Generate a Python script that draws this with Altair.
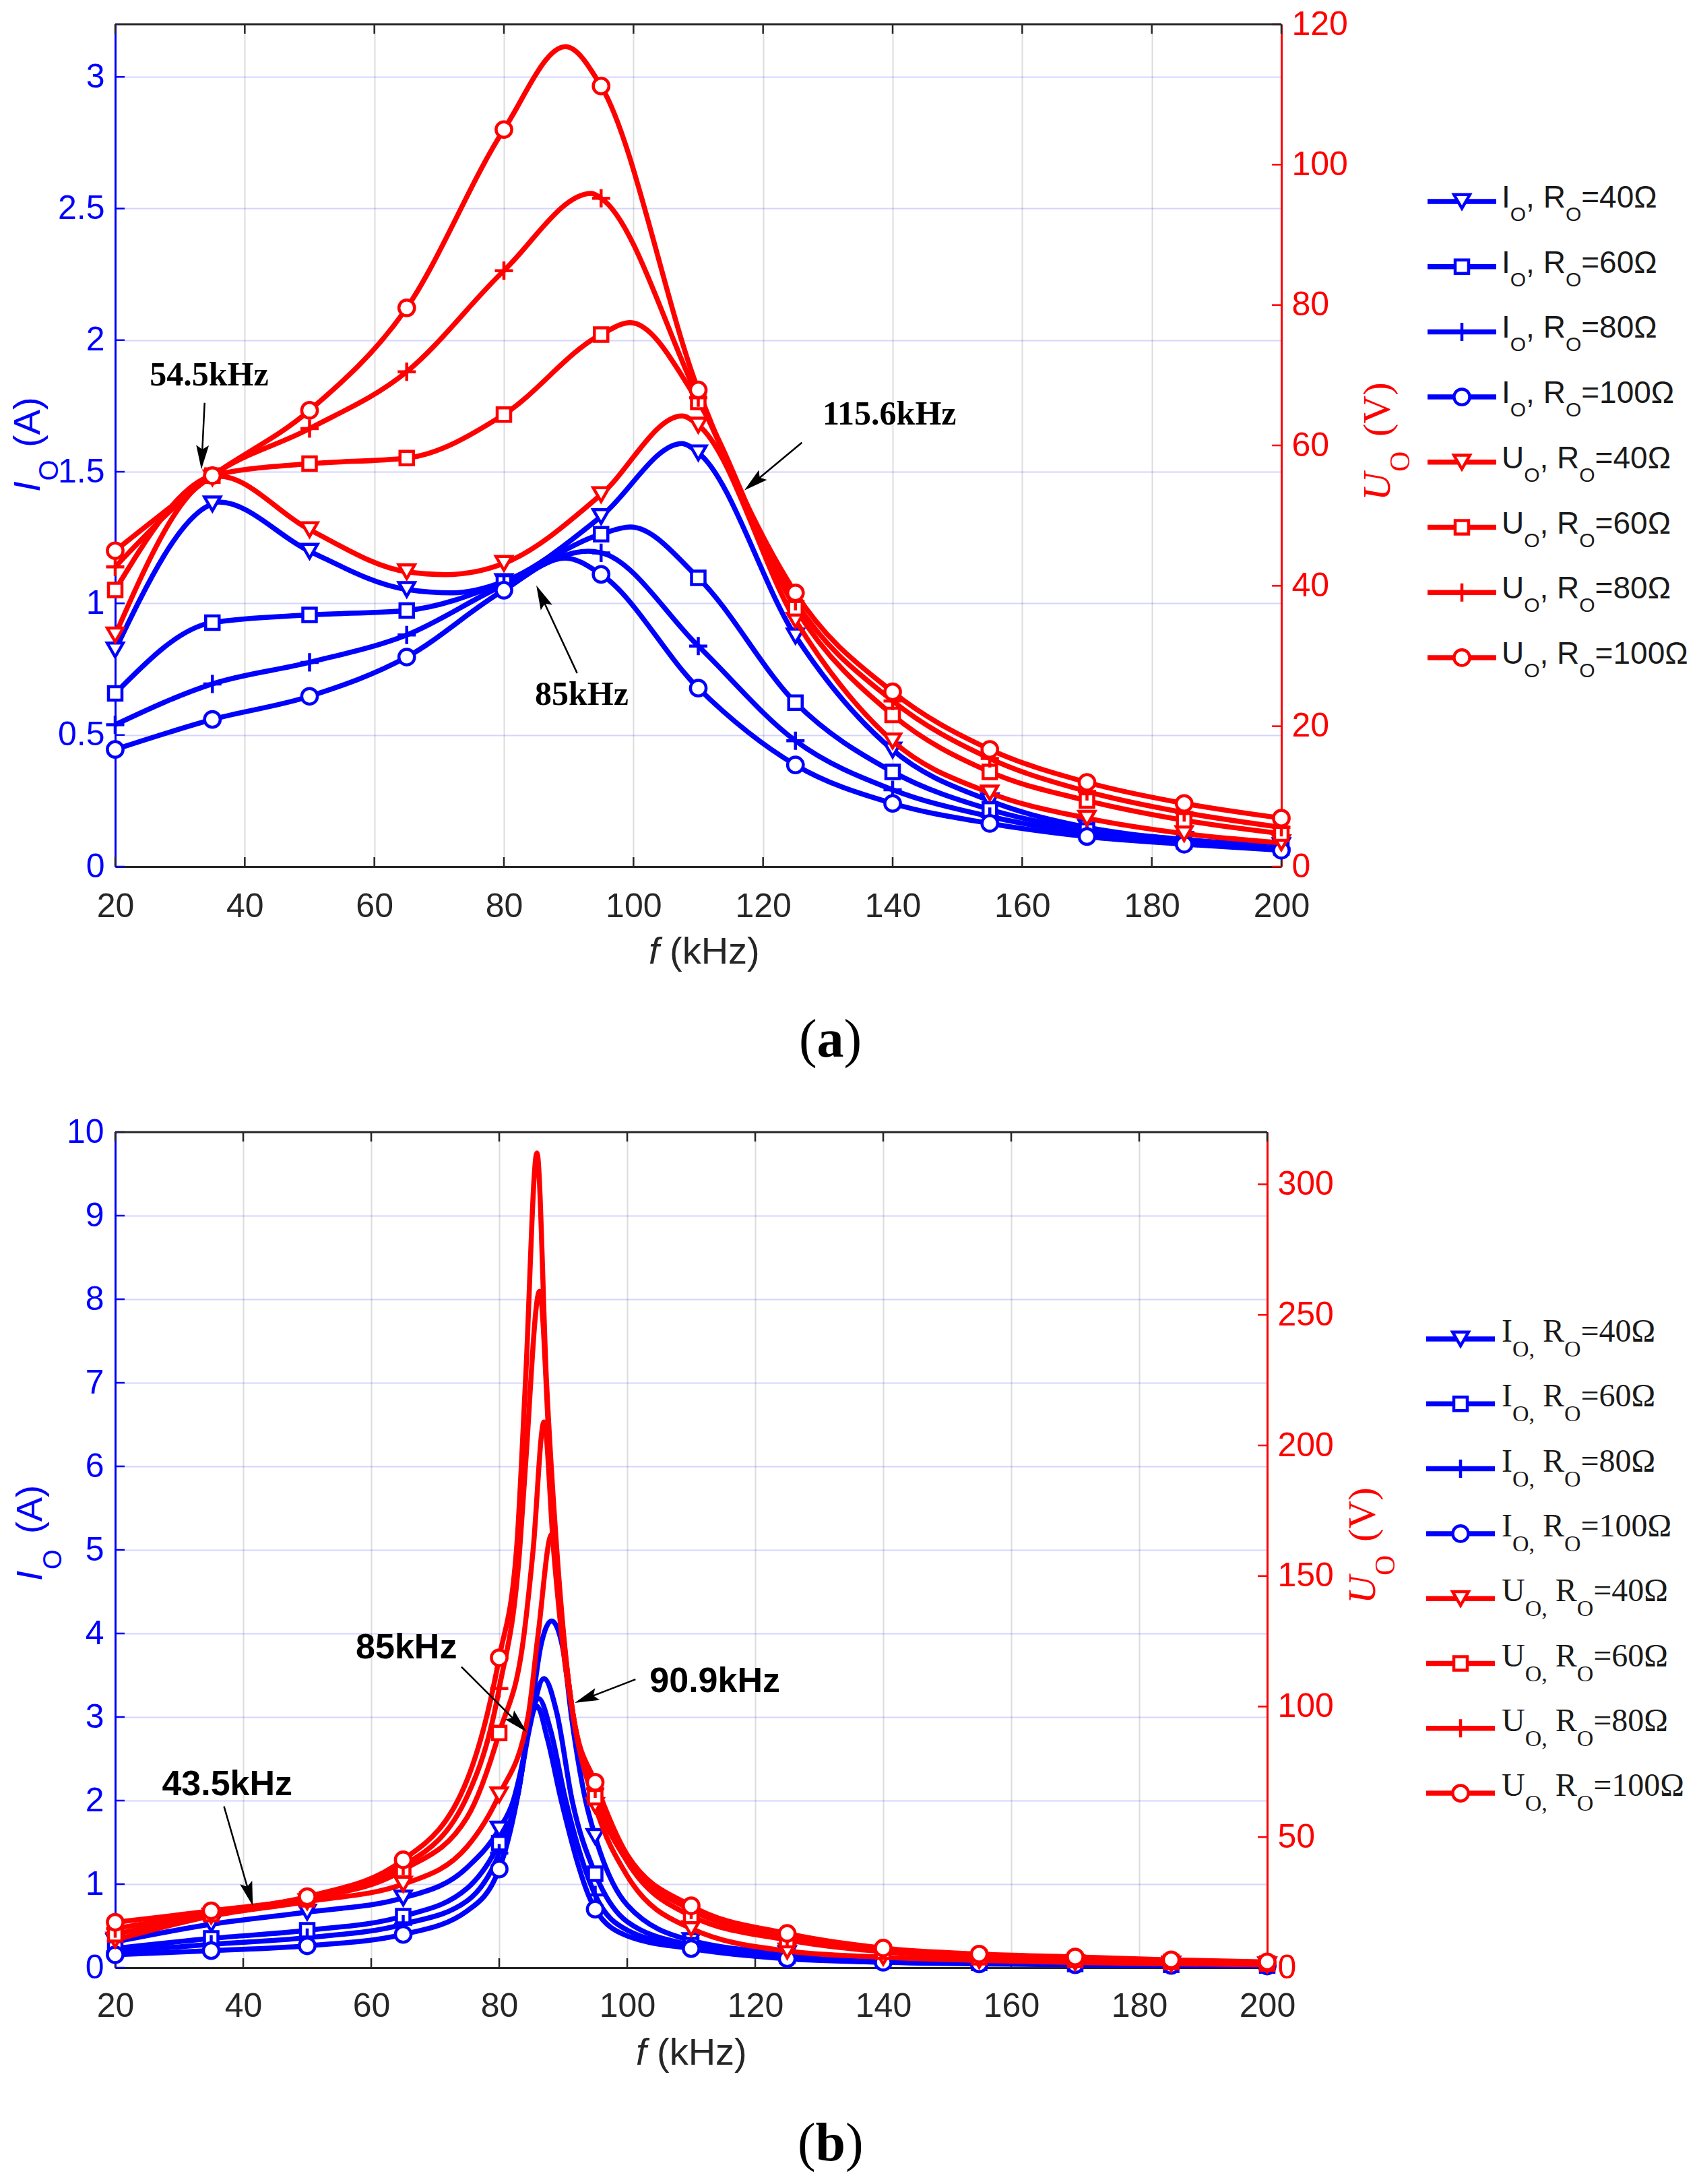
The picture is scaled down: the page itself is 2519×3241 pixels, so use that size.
import math
import altair as alt
import pandas as pd

SANS = "Liberation Sans"
SERIF = "Liberation Serif"
BLUE = "#0000ff"
RED = "#ff0000"
DARK = "#262626"
INK = "#1a1a1a"

# ---------------- shared ----------------
F_TICKS = [20, 40, 60, 80, 100, 120, 140, 160, 180, 200]
MARK_F = [20, 35, 50, 65, 80, 95, 110, 125, 140, 155, 170, 185, 200]
LOADS = ["40", "60", "80", "100"]

# ---------------- panel (a) ----------------
A_I_TICKS = [0, 0.5, 1, 1.5, 2, 2.5, 3]
A_U_TICKS = [0, 20, 40, 60, 80, 100, 120]

A_I40_F = [20, 35, 36, 50, 65, 72, 80, 95, 107.5, 110, 125, 140, 155, 170, 185, 200]
A_I40 = [0.823, 1.378, 1.385, 1.198, 1.053, 1.04, 1.083, 1.33, 1.607, 1.572, 0.876, 0.443, 0.25, 0.149, 0.103, 0.08]
A_I60_F = [20, 35, 50, 65, 80, 95, 99.5, 110, 125, 140, 155, 170, 185, 200]
A_I60 = [0.658, 0.927, 0.956, 0.973, 1.08, 1.263, 1.29, 1.097, 0.623, 0.36, 0.217, 0.137, 0.096, 0.073]
A_I80_F = [20, 35, 50, 65, 80, 93, 95, 110, 125, 140, 155, 170, 185, 200]
A_I80 = [0.539, 0.694, 0.776, 0.88, 1.07, 1.198, 1.192, 0.838, 0.478, 0.292, 0.19, 0.126, 0.091, 0.069]
A_I100_F = [20, 35, 50, 65, 80, 89.5, 95, 110, 125, 140, 155, 170, 185, 200]
A_I100 = [0.445, 0.559, 0.647, 0.796, 1.05, 1.172, 1.11, 0.678, 0.386, 0.24, 0.164, 0.114, 0.085, 0.062]

A_U40_F = [20, 35, 36, 50, 65, 71, 80, 95, 107.5, 110, 125, 140, 155, 170, 185, 200]
A_U40 = [33.0, 55.4, 55.6, 48.0, 42.0, 41.6, 43.2, 53.0, 64.2, 62.9, 35.1, 17.9, 10.5, 6.9, 4.7, 3.4]
A_U60_F = [20, 35, 50, 65, 80, 95, 99.5, 110, 125, 140, 155, 170, 185, 200]
A_U60 = [39.4, 55.7, 57.4, 58.2, 64.4, 75.8, 77.5, 66.2, 36.8, 21.6, 13.5, 9.4, 6.6, 4.7]
A_U80_F = [20, 35, 50, 65, 80, 93.5, 95, 110, 125, 140, 155, 170, 185, 200]
A_U80 = [42.7, 55.7, 62.4, 70.5, 84.9, 95.9, 95.2, 66.8, 37.8, 23.6, 15.4, 10.7, 7.7, 5.6]
A_U100_F = [20, 35, 50, 65, 80, 89.5, 95, 110, 125, 140, 155, 170, 185, 200]
A_U100 = [45.0, 55.7, 65.0, 79.6, 105.0, 116.8, 111.2, 67.9, 39.0, 24.9, 16.7, 12.0, 9.0, 6.9]

A_NOTE_TEXT = ["54.5kHz", "115.6kHz", "85kHz"]
A_NOTE_F = [34.5, 139.5, 92.0]
A_NOTE_I = [1.867, 1.717, 0.653]
A_ARROW_F1 = [33.8, 126.0, 91.3]
A_ARROW_I1 = [1.762, 1.611, 0.735]
A_ARROW_F2 = [33.3, 117.1, 85.0]
A_ARROW_I2 = [1.509, 1.429, 1.068]

# ---------------- panel (b) ----------------
B_I_TICKS = [0, 1, 2, 3, 4, 5, 6, 7, 8, 9, 10]
B_U_TICKS = [0, 50, 100, 150, 200, 250, 300]

B_I40_F = [20, 35, 50, 65, 75, 80, 82.2, 84.7, 86.5, 88.2, 90, 91.3, 93.5, 95, 100, 110, 125, 140, 155, 170, 185, 200]
B_I40 = [0.31, 0.52, 0.665, 0.835, 1.2, 1.66, 2.0, 2.9, 3.85, 4.15, 3.8, 3.0, 2.0, 1.57, 0.75, 0.325, 0.17, 0.105, 0.072, 0.053, 0.041, 0.032]
B_I60_F = [20, 35, 50, 65, 75, 80, 82.7, 84.7, 87.0, 89.0, 91.4, 95, 100, 110, 125, 140, 155, 170, 185, 200]
B_I60 = [0.23, 0.35, 0.447, 0.617, 0.95, 1.49, 2.0, 2.85, 3.46, 3.05, 2.0, 1.126, 0.55, 0.27, 0.14, 0.085, 0.058, 0.044, 0.034, 0.027]
B_I80_F = [20, 35, 50, 65, 75, 80, 83.0, 84.7, 86.2, 88.0, 90.4, 95, 100, 110, 125, 140, 155, 170, 185, 200]
B_I80 = [0.19, 0.28, 0.36, 0.52, 0.8, 1.37, 2.1, 2.9, 3.22, 2.85, 2.0, 0.87, 0.45, 0.245, 0.12, 0.074, 0.051, 0.039, 0.03, 0.024]
B_I100_F = [20, 35, 50, 65, 75, 80, 83.0, 84.7, 85.9, 87.5, 89.7, 95, 100, 110, 125, 140, 155, 170, 185, 200]
B_I100 = [0.155, 0.204, 0.262, 0.398, 0.68, 1.18, 2.1, 2.9, 3.13, 2.75, 2.0, 0.70, 0.38, 0.228, 0.107, 0.065, 0.045, 0.035, 0.027, 0.02]

B_U40_F = [20, 35, 50, 65, 75, 80, 84.5, 86.1, 88.2, 89.9, 91.6, 95, 100, 110, 125, 140, 155, 170, 185, 200]
B_U40 = [10.6, 19.8, 25.3, 32.0, 46.4, 66.2, 96, 128, 166, 128, 96, 62.1, 35.2, 15.0, 6.4, 4.0, 2.8, 2.0, 1.5, 1.1]
B_U60_F = [20, 35, 50, 65, 75, 80, 83.9, 85.3, 87.0, 88.5, 90.2, 91.6, 95, 100, 110, 125, 140, 155, 170, 185, 200]
B_U60 = [12.8, 20.5, 26.2, 37.4, 57.6, 89.9, 128, 160, 209, 160, 118, 96, 65.3, 40.6, 19.8, 10.6, 6.1, 4.0, 3.0, 2.2, 1.6]
B_U80_F = [20, 35, 50, 65, 75, 80, 83.2, 84.1, 86.3, 88.0, 90.0, 91.6, 95, 100, 110, 125, 140, 155, 170, 185, 200]
B_U80 = [15.0, 21.1, 26.9, 39.0, 65.6, 106.9, 160, 192, 259, 192, 128, 96, 68.5, 42.2, 22.1, 12.0, 6.8, 4.7, 3.6, 2.6, 1.9]
B_U100_F = [20, 35, 50, 65, 75, 80, 82.7, 84.1, 85.9, 87.4, 89.0, 91.6, 95, 100, 110, 125, 140, 155, 170, 185, 200]
B_U100 = [17.4, 21.8, 27.2, 41.3, 72.0, 118.7, 160, 224, 312, 224, 160, 96, 71.0, 43.2, 23.7, 13.1, 7.5, 5.2, 4.1, 3.0, 2.2]

B_NOTE_TEXT = ["43.5kHz", "85kHz", "90.9kHz"]
B_NOTE_F = [37.5, 65.5, 113.7]
B_NOTE_I = [2.19, 3.83, 3.43]
B_ARROW_F1 = [37.0, 74.1, 101.3]
B_ARROW_I1 = [1.93, 3.60, 3.45]
B_ARROW_F2 = [41.5, 84.3, 91.8]
B_ARROW_I2 = [0.74, 2.82, 3.17]

# ---------------- styles ----------------
SHAPE = {"40": "triangle-down", "60": "square", "80": "M-1,0L1,0M0,-1L0,1", "100": "circle"}
MSIZE = {"40": 560, "60": 400, "80": 730, "100": 540}
LINE_W = 7.5
MARK_W = 4.5
ARROW = "M0,-1L0.42,0.6L0,0.32L-0.42,0.6Z"
ARROW_SIZE = 2025
ARROW_BACK = math.sqrt(ARROW_SIZE) / 2
NUMFMT = ".6~g"


def series_frame(series):
    rows = []
    for side, load, fs, vs in series:
        for f, v in zip(fs, vs):
            rows.append(dict(f=f, v=v, sid=side + load, side=side,
                             shape=SHAPE[load], size=MSIZE[load],
                             mark=(f in MARK_F)))
    return pd.DataFrame(rows)


def arrow_frame(f1s, v1s, f2s, v2s, sx, sy):
    rows = []
    for f1, v1, f2, v2 in zip(f1s, v1s, f2s, v2s):
        dxp = (f2 - f1) * sx
        dyp = -(v2 - v1) * sy
        n = math.hypot(dxp, dyp)
        ux, uy = dxp / n, dyp / n
        ang = math.degrees(math.atan2(ux, -uy)) % 360
        fh = f2 - ux * ARROW_BACK / sx
        vh = v2 + uy * ARROW_BACK / sy
        rows.append(dict(f1=f1, v1=v1, fh=fh, vh=vh, ang=ang))
    return pd.DataFrame(rows)


def txt(text, x, y, size, font, color, style="normal", weight="normal",
        angle=0, dx=0, dy=0, align="left"):
    return alt.Chart(pd.DataFrame({"t": [text]})).mark_text(
        font=font, fontSize=size, fontStyle=style, fontWeight=weight,
        color=color, angle=angle, dx=dx, dy=dy, align=align,
        baseline="alphabetic"
    ).encode(text="t:N", x=alt.value(x), y=alt.value(y))


def panel(P):
    W, H = P["W"], P["H"]
    xs = alt.Scale(domain=[20, 200], nice=False, zero=False)
    xax = alt.Axis(values=F_TICKS, format="d", title=None, grid=True,
                   gridColor=DARK, gridOpacity=0.16, gridWidth=2, ticks=False,
                   domainColor=DARK, domainWidth=3, labelColor=DARK,
                   labelFont=SANS, labelFontSize=50, labelPadding=P["xpad"],
                   labelFlush=False, labelOverlap=False)

    def X(fld):
        return alt.X(f"{fld}:Q", scale=xs, axis=xax)

    yI = alt.Scale(domain=[0, P["imax"]], nice=False)
    yU = alt.Scale(domain=[0, P["umax"]], nice=False)
    lax = alt.Axis(orient="left", values=P["itk"], format=NUMFMT, title=None,
                   grid=True, gridColor=BLUE, gridOpacity=0.17, gridWidth=2,
                   ticks=False, domainColor=BLUE, domainWidth=3,
                   labelColor=BLUE, labelFont=SANS, labelFontSize=50,
                   labelPadding=P["lpad"], labelFlush=False, labelOverlap=False)
    rax = alt.Axis(orient="right", values=P["utk"], format=NUMFMT, title=None,
                   grid=False, ticks=False, domainColor=RED, domainWidth=3,
                   labelColor=RED, labelFont=SANS, labelFontSize=50,
                   labelPadding=P["rpad"], labelFlush=False, labelOverlap=False)

    def YI(fld, axis=None):
        return alt.Y(f"{fld}:Q", scale=yI, axis=axis)

    def YU(fld, axis=None):
        return alt.Y(f"{fld}:Q", scale=yU, axis=axis)

    df = P["df"]
    Idf = df[df.side == "I"]
    Udf = df[df.side == "U"]
    Im = Idf[Idf.mark]
    Um = Udf[Udf.mark]

    L = []
    ft = pd.DataFrame({"f": F_TICKS})
    L.append(alt.Chart(ft).mark_rule(color=DARK, strokeWidth=2.5).encode(
        x=X("f"), y=alt.value(H), y2=alt.value(H - 14)))
    L.append(alt.Chart(ft).mark_rule(color=DARK, strokeWidth=2.5).encode(
        x=X("f"), y=alt.value(0), y2=alt.value(14)))
    L.append(alt.Chart(pd.DataFrame({"v": P["itk"]})).mark_rule(
        color=BLUE, strokeWidth=2.5).encode(y=YI("v"), x=alt.value(0), x2=alt.value(14)))
    L.append(alt.Chart(pd.DataFrame({"v": P["utk"]})).mark_rule(
        color=RED, strokeWidth=2.5).encode(y=YU("v"), x=alt.value(W - 14), x2=alt.value(W)))
    L.append(alt.Chart(pd.DataFrame({"k": [0]})).mark_rule(
        color=DARK, strokeWidth=3).encode(x=alt.value(0), x2=alt.value(W), y=alt.value(0)))

    # data
    L.append(alt.Chart(Idf).mark_line(interpolate="monotone", color=BLUE, strokeWidth=LINE_W,
                                      strokeJoin="round").encode(
        x=X("f"), y=YI("v", lax), detail="sid:N"))
    L.append(alt.Chart(Im).mark_point(filled=True, color="white", stroke=BLUE,
                                      strokeWidth=MARK_W, opacity=1).encode(
        x=X("f"), y=YI("v"), shape=alt.Shape("shape:N", scale=None),
        size=alt.Size("size:Q", scale=None)))
    L.append(alt.Chart(Udf).mark_line(interpolate="monotone", color=RED, strokeWidth=LINE_W,
                                      strokeJoin="round").encode(
        x=X("f"), y=YU("v", rax), detail="sid:N"))
    L.append(alt.Chart(Um).mark_point(filled=True, color="white", stroke=RED,
                                      strokeWidth=MARK_W, opacity=1).encode(
        x=X("f"), y=YU("v"), shape=alt.Shape("shape:N", scale=None),
        size=alt.Size("size:Q", scale=None)))

    # annotations
    notes = pd.DataFrame({"t": P["nt"], "f": P["nf"], "v": P["nv"]})
    L.append(alt.Chart(notes).mark_text(font=P["nfont"], fontSize=P["nsize"],
                                        fontWeight="bold", color="black",
                                        align="center", baseline="middle").encode(
        x=X("f"), y=YI("v"), text="t:N"))
    arr = P["arr"]
    L.append(alt.Chart(arr).mark_rule(color="black", strokeWidth=2.5).encode(
        x=X("f1"), x2="fh:Q", y=YI("v1"), y2="vh:Q"))
    L.append(alt.Chart(arr).mark_point(shape=ARROW, filled=True, color="black",
                                       size=ARROW_SIZE, opacity=1).encode(
        x=X("fh"), y=YI("vh"), angle=alt.Angle("ang:Q", scale=None)))

    # legend
    G = P["leg"]
    leg = pd.DataFrame({
        "row": list(range(8)),
        "letter": ["I"] * 4 + ["U"] * 4,
        "rt": [f"={l}\u03a9" for l in LOADS] * 2,
        "col": [BLUE] * 4 + [RED] * 4,
        "shape": [SHAPE[l] for l in LOADS] * 2,
        "size": [MSIZE[l] for l in LOADS] * 2,
    })
    LY = alt.Y("row:Q", scale=alt.Scale(domain=[0, 7],
                                         range=[G["y0"], G["y0"] + 7 * G["dy"]]),
               axis=None)
    x0 = W + G["off"]
    L.append(alt.Chart(leg).mark_rule(strokeWidth=LINE_W).encode(
        x=alt.value(x0), x2=alt.value(x0 + 102), y=LY,
        color=alt.Color("col:N", scale=None)))
    L.append(alt.Chart(leg).mark_point(filled=True, color="white", strokeWidth=MARK_W,
                                       opacity=1).encode(
        x=alt.value(x0 + 51), y=LY, stroke=alt.Stroke("col:N", scale=None),
        shape=alt.Shape("shape:N", scale=None), size=alt.Size("size:Q", scale=None)))
    tx = x0 + G["tx"]
    for letter in ["I", "U"]:
        sub = leg[leg.letter == letter]
        p1 = tx + G["w" + letter]
        p2 = p1 + G["ws1"] + G["gap"]
        p3 = p2 + G["wmid"]
        p4 = p3 + G["wO"]
        base = dict(font=G["font"], color=INK, baseline="alphabetic", align="left")
        L.append(alt.Chart(sub).mark_text(fontSize=G["main"], dy=G["dm"], **base).encode(
            x=alt.value(tx), y=LY, text="letter:N"))
        L.append(alt.Chart(sub).mark_text(fontSize=G["sub"], dy=G["ds"], text=G["s1"],
                                          **base).encode(x=alt.value(p1), y=LY))
        L.append(alt.Chart(sub).mark_text(fontSize=G["main"], dy=G["dm"], text=G["mid"],
                                          **base).encode(x=alt.value(p2), y=LY))
        L.append(alt.Chart(sub).mark_text(fontSize=G["sub"], dy=G["ds"], text="O",
                                          **base).encode(x=alt.value(p3), y=LY))
        L.append(alt.Chart(sub).mark_text(fontSize=G["main"], dy=G["dm"], **base).encode(
            x=alt.value(p4), y=LY, text="rt:N"))

    # axis titles
    t = P["lt"]
    L.append(txt("I", t["x"], t["y"], t["main"], SANS, BLUE, style="italic", angle=270))
    L.append(txt("O", t["x"], t["y"], t["sub"], SANS, BLUE, angle=270, dx=t["sdx"], dy=t["sdy"]))
    L.append(txt("(A)", t["x"], t["y"], t["main"], SANS, BLUE, angle=270, dx=t["pdx"]))
    t = P["rt"]
    L.append(txt("U", t["x"], t["y"], t["main"], SERIF, RED, style="italic", angle=270))
    L.append(txt("O", t["x"], t["y"], t["sub"], SERIF, RED, angle=270, dx=t["sdx"], dy=t["sdy"]))
    L.append(txt("(V)", t["x"], t["y"], t["main"], SERIF, RED, angle=270, dx=t["pdx"]))
    t = P["xt"]
    L.append(txt("f", t["x"], t["y"], 56, SANS, DARK, style="italic"))
    L.append(txt("(kHz)", t["x"] + 31, t["y"], 56, SANS, DARK))
    t = P["cap"]
    L.append(txt("(", t["x"], t["y"], 80, SERIF, "black"))
    L.append(txt(t["letter"], t["x"] + 26.6, t["y"], 80, SERIF, "black", weight="bold"))
    L.append(txt(")", t["x"] + 26.6 + t["lw"], t["y"], 80, SERIF, "black"))

    return alt.layer(*L).resolve_scale(y="independent").properties(width=W, height=H)


# ---------------- panel definitions ----------------
WA, HA = 1731, 1250
WB, HB = 1710, 1240

PA = dict(
    W=WA, H=HA, imax=3.2, umax=120, itk=A_I_TICKS, utk=A_U_TICKS,
    xpad=34, lpad=16, rpad=15,
    df=series_frame([
        ("I", "40", A_I40_F, A_I40), ("I", "60", A_I60_F, A_I60),
        ("I", "80", A_I80_F, A_I80), ("I", "100", A_I100_F, A_I100),
        ("U", "40", A_U40_F, A_U40), ("U", "60", A_U60_F, A_U60),
        ("U", "80", A_U80_F, A_U80), ("U", "100", A_U100_F, A_U100),
    ]),
    nt=A_NOTE_TEXT, nf=A_NOTE_F, nv=A_NOTE_I, nfont=SERIF, nsize=50,
    arr=arrow_frame(A_ARROW_F1, A_ARROW_I1, A_ARROW_F2, A_ARROW_I2, WA / 180, HA / 3.2),
    leg=dict(y0=263, dy=96.7, off=217, tx=110, font=SANS, main=46, sub=30,
             dm=9, ds=29, wI=12.8, wU=33.2, s1="O", ws1=23.3, gap=0, mid=", R",
             wmid=58.8, wO=23.3),
    lt=dict(x=-112, y=694, main=56, sub=40, sdx=16.5, sdy=27, pdx=66),
    rt=dict(x=WA + 161, y=707, main=58, sub=42, sdx=43, sdy=29, pdx=95),
    xt=dict(x=792, y=HA + 144),
    cap=dict(x=1015, y=HA + 282, letter="a", lw=40),
)

PB = dict(
    W=WB, H=HB, imax=10, umax=320, itk=B_I_TICKS, utk=B_U_TICKS,
    xpad=32, lpad=17, rpad=15,
    df=series_frame([
        ("I", "40", B_I40_F, B_I40), ("I", "60", B_I60_F, B_I60),
        ("I", "80", B_I80_F, B_I80), ("I", "100", B_I100_F, B_I100),
        ("U", "40", B_U40_F, B_U40), ("U", "60", B_U60_F, B_U60),
        ("U", "80", B_U80_F, B_U80), ("U", "100", B_U100_F, B_U100),
    ]),
    nt=B_NOTE_TEXT, nf=B_NOTE_F, nv=B_NOTE_I, nfont=SANS, nsize=52,
    arr=arrow_frame(B_ARROW_F1, B_ARROW_I1, B_ARROW_F2, B_ARROW_I2, WB / 180, HB / 10),
    leg=dict(y0=307, dy=96.3, off=236, tx=112, font=SERIF, main=48, sub=34,
             dm=4, ds=26, wI=16, wU=34.7, s1="O,", ws1=33, gap=12, mid="R",
             wmid=32, wO=24.5),
    lt=dict(x=-109, y=666, main=54, sub=38, sdx=17, sdy=29, pdx=70),
    rt=dict(x=WB + 160, y=700, main=58, sub=42, sdx=42, sdy=29, pdx=92),
    xt=dict(x=773, y=HB + 144),
    cap=dict(x=1013, y=HB + 286, letter="b", lw=44.5),
)

chart = alt.vconcat(panel(PA), panel(PB), spacing=71).properties(
    padding={"left": 6, "top": 3, "right": 0, "bottom": 5}
).configure_view(stroke=None)

chart.save("out.html", embed_options={"renderer": "svg", "actions": False})
